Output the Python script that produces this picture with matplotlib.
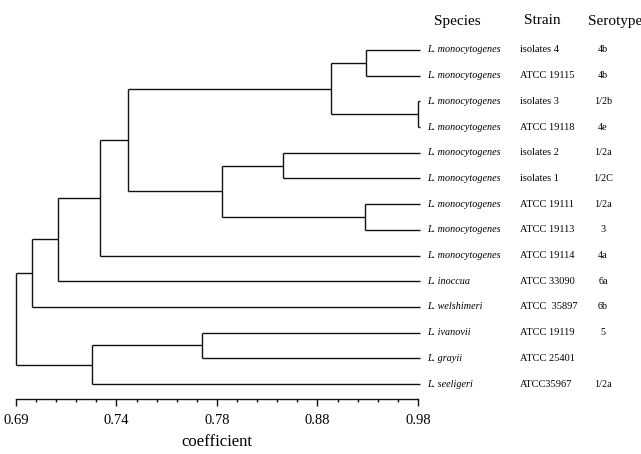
import numpy as np
import matplotlib
matplotlib.use("Agg")
import matplotlib.pyplot as plt

# ---- data ----
species = ["L. monocytogenes"] * 9 + ["L. inoccua", "L. welshimeri", "L. ivanovii",
                                      "L. grayii", "L. seeligeri"]
strains = ["isolates 4", "ATCC 19115", "isolates 3", "ATCC 19118", "isolates 2",
           "isolates 1", "ATCC 19111", "ATCC 19113", "ATCC 19114", "ATCC 33090",
           "ATCC  35897", "ATCC 19119", "ATCC 25401", "ATCC35967"]
serotypes = ["4b", "4b", "1/2b", "4e", "1/2a", "1/2C", "1/2a", "3", "4a", "6a",
             "6b", "5", "", "1/2a"]

# merges: (child a, child b, coefficient); leaves 0..13, new nodes 14..
merge_a = [0, 2, 14, 4, 6, 17, 16, 20, 21, 22, 11, 24, 23]
merge_b = [1, 3, 15, 5, 7, 18, 19, 8, 9, 10, 12, 13, 25]
merge_h = [0.928, 0.980, 0.893, 0.846, 0.927, 0.785, 0.7444, 0.7318, 0.711,
           0.698, 0.774, 0.728, 0.690]
leaf_h = 0.9815

tick_vals = [0.69, 0.74, 0.78, 0.88, 0.98]
tick_labels = ["0.69", "0.74", "0.78", "0.88", "0.98"]

# ---- non-uniform axis scale (equally spaced labelled ticks) ----
bp_v = np.array([0.64] + tick_vals + [1.08])
bp_u = np.arange(len(bp_v), dtype=float) - 1


def fwd(v):
    return np.interp(v, bp_v, bp_u)


def inv(u):
    return np.interp(u, bp_u, bp_v)


W, H = 641, 454
fig = plt.figure(figsize=(W / 100, H / 100), dpi=100)
ax = fig.add_axes([16 / W, (H - 399) / H, 402 / W, (399 - 30) / H])
ax.set_xscale("function", functions=(fwd, inv))

n = len(species)
pos_y = {i: float(i) for i in range(n)}
pos_x = {i: leaf_h for i in range(n)}
lc = "#111111"
lw = 1.0
for k, (a, b, h) in enumerate(zip(merge_a, merge_b, merge_h)):
    node = n + k
    for c in (a, b):
        ax.plot([pos_x[c], h], [pos_y[c], pos_y[c]], color=lc, lw=lw,
                clip_on=False, solid_capstyle="butt")
    ax.plot([h, h], [pos_y[a], pos_y[b]], color=lc, lw=lw, clip_on=False,
            solid_capstyle="butt")
    pos_y[node] = (pos_y[a] + pos_y[b]) / 2
    pos_x[node] = h

ax.set_xlim(0.69, 0.98)
ax.set_ylim(n - 1 + (399 - 384) / 25.7, -(50 - 30) / 25.7)

for s in ("top", "left", "right"):
    ax.spines[s].set_visible(False)
ax.spines["bottom"].set_color(lc)
ax.spines["bottom"].set_linewidth(1.0)
ax.set_yticks([])

ax.set_xticks(tick_vals)
ax.set_xticklabels(tick_labels, family="Liberation Serif", fontsize=10.5)
minor = []
for i in range(len(tick_vals) - 1):
    for j in range(1, 5):
        minor.append(inv(i + j / 5))
ax.set_xticks(minor, minor=True)
ax.tick_params(axis="x", which="major", length=5, width=1, color=lc, pad=6)
ax.tick_params(axis="x", which="minor", length=2.5, width=1, color=lc)
ax.set_xlabel("coefficient", family="Liberation Serif", fontsize=12, labelpad=5)

# ---- labels on the right ----
def fx(px):
    return px / W


for i in range(n):
    y = pos_y[i]
    yt = ax.transData.transform((0.69, y))[1] / H
    fig.text(fx(427), yt, species[i], family="Liberation Serif", style="italic",
             fontsize=7.3, ha="left", va="center")
    fig.text(fx(520), yt, strains[i], family="Liberation Serif",
             fontsize=7.5, ha="left", va="center")
    fig.text(fx(603), yt, serotypes[i], family="Liberation Serif",
             fontsize=7.3, ha="center", va="center")

yh = (H - 21) / H
fig.text(fx(457), yh, "Species", family="Liberation Serif", fontsize=11,
         ha="center", va="center")
fig.text(fx(542), yh, "Strain", family="Liberation Serif", fontsize=11,
         ha="center", va="center")
fig.text(fx(588), yh, "Serotype", family="Liberation Serif", fontsize=11,
         ha="left", va="center")

fig.savefig("out.png", dpi=100, facecolor="white")
